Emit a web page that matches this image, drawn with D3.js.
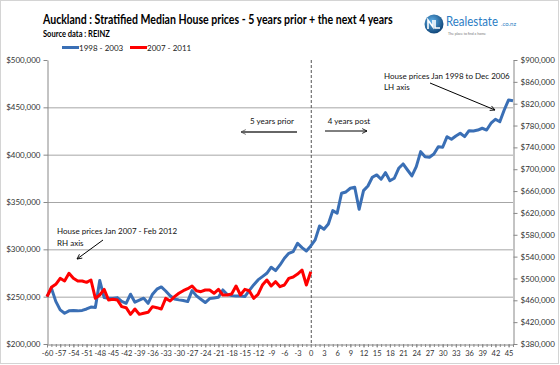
<!DOCTYPE html>
<html><head><meta charset="utf-8">
<script src="https://cdn.jsdelivr.net/npm/d3@7"></script>
<style>body{margin:0;background:#fff} svg{display:block} text{font-family:Lato,"Open Sans",sans-serif}</style>
</head><body><svg width="560" height="365"></svg>
<script>
// ---- data ----
const months = d3.range(-60, 47); // month offsets -60 .. 46
const seriesNames = ["1998 - 2003", "2007 - 2011"];
// 1998-2006, left axis, $000
const blueValues = [
 250,259,245,236,232.5,235,235.3,235,235.5,237,239,238.5,267,249,248.4,248.4,249,245,243,252.6,
 244.2,246.3,248.4,243,252.6,257.9,260.3,256,251,247.5,246.6,245.9,244.8,256.4,250.8,247.3,243.8,248,248.7,249.4,
 257.1,252.2,251.1,250.8,250.8,250.1,256.4,262.4,267.7,271.2,274.7,281.1,277.5,283.5,290.6,295.8,297.6,306.4,301.8,298.3,
 303.6,310,324.7,321.2,326.8,340.9,338.1,359.2,360.6,364.5,365.6,342.3,362,366.9,376.1,378.6,374,381,372.5,375.1,
 385.6,390.2,383.8,377.5,387.3,403.2,397.9,397.3,400.7,408.4,407.8,419,416.3,419.7,422.6,419,425.3,425,426,427.9,
 426,433.2,437.4,434.8,447.2,457.8,457
];
// 2007-2012, right axis, $000
const redValues = [
 466.7,483.8,489.3,500.3,495.4,509.4,500.3,495.4,495.4,492.9,497.2,463.6,469.7,480.1,460.6,461.8,460.6,448.4,446.5,434.3,
 444.1,434.3,436.2,438,448.4,446.5,444.1,463.6,458.8,466.7,472.8,477.6,481.3,486.2,477.6,475.8,478.9,478.9,472.8,480.1,
 469.7,469.7,471.5,486.2,469.7,480.1,477.6,463.6,470.9,488,497.2,486.2,494.1,485,488,500.2,502.7,508,515.5,488,
 512.4
];
const leftTicks = [200000,250000,300000,350000,400000,450000,500000];
const rightTicks = [380000,420000,460000,500000,540000,580000,620000,660000,700000,740000,780000,820000,860000,900000];
const xTickLabels = [-60,-57,-54,-51,-48,-45,-42,-39,-36,-33,-30,-27,-24,-21,-18,-15,-12,-9,-6,-3,0,3,6,9,12,15,18,21,24,27,30,33,36,39,42,45];

const BLUE = "#3a6fb5", RED = "#ff0000";
const svg = d3.select("svg");
svg.append("rect").attr("x",0.5).attr("y",0.5).attr("width",558).attr("height",363)
  .attr("fill","#fff").attr("stroke","#d4d4d4");

const defs = svg.append("defs");
function marker(id, color){
  defs.append("marker").attr("id",id).attr("viewBox","0 0 10 10").attr("refX",9).attr("refY",5)
    .attr("markerWidth",6).attr("markerHeight",6).attr("markerUnits","userSpaceOnUse").attr("orient","auto")
    .append("path").attr("d","M1,1 L9,5 L1,9").attr("fill","none").attr("stroke",color).attr("stroke-width",1.4);
}
marker("arrBlack","#000"); marker("arrGray","#555");
const grad = defs.append("radialGradient").attr("id","logoGrad").attr("cx","40%").attr("cy","35%").attr("r","70%");
grad.append("stop").attr("offset","0%").attr("stop-color","#5fb0e8");
grad.append("stop").attr("offset","100%").attr("stop-color","#0b3f72");

const x = d3.scaleLinear().domain([-60,46]).range([47,513]);
const yL = d3.scaleLinear().domain([200000,500000]).range([344,60]);
const yR = d3.scaleLinear().domain([380000,900000]).range([344,60]);

// gridlines
svg.append("g").selectAll("line").data(leftTicks.filter(d=>d>200000 && d<500000)).join("line")
  .attr("x1",47).attr("x2",513).attr("y1",d=>yL(d)+0.5).attr("y2",d=>yL(d)+0.5)
  .attr("stroke","#a6a6a6").attr("stroke-width",1);

const money = d => "$" + d3.format(",")(d);
function styleAxis(g, size){
  g.select(".domain").attr("stroke","#888");
  g.selectAll(".tick line").attr("stroke","#888");
  g.selectAll("text").attr("fill","#333").style("font-size",size||"8px").style("font-family","Lato,sans-serif");
}
svg.append("g").attr("transform","translate(47.5,0)")
  .call(d3.axisLeft(yL).tickValues(leftTicks).tickFormat(money).tickSize(4).tickSizeOuter(0).tickPadding(3))
  .call(g=>styleAxis(g));
svg.append("g").attr("transform","translate(513.5,0)")
  .call(d3.axisRight(yR).tickValues(rightTicks).tickFormat(money).tickSize(4).tickSizeOuter(0).tickPadding(3))
  .call(g=>styleAxis(g));
// minor x ticks
svg.append("g").selectAll("line").data(months).join("line")
  .attr("x1",d=>x(d)+0.5).attr("x2",d=>x(d)+0.5).attr("y1",344).attr("y2",347).attr("stroke","#888");
svg.append("g").attr("transform","translate(0,344.5)")
  .call(d3.axisBottom(x).tickValues(xTickLabels).tickFormat(d=>String(d)).tickSize(3).tickSizeOuter(0).tickPadding(3))
  .call(g=>styleAxis(g,"7.5px"));

// dashed zero line
svg.append("line").attr("x1",x(0)+0.5).attr("x2",x(0)+0.5).attr("y1",60).attr("y2",344)
  .attr("stroke","#555").attr("stroke-dasharray","3,2");

// series
const lineL = d3.line().x((d,i)=>x(months[i])).y(d=>yL(d*1000));
const lineR = d3.line().x((d,i)=>x(months[i])).y(d=>yR(d*1000));
svg.append("path").datum(blueValues).attr("d",lineL).attr("fill","none").attr("stroke",BLUE)
  .attr("stroke-width",3).attr("stroke-linejoin","round");
svg.append("path").datum(redValues).attr("d",lineR).attr("fill","none").attr("stroke",RED)
  .attr("stroke-width",3).attr("stroke-linejoin","round");

// helper: text squeezed horizontally to a target width via transform
function fitText(parent, tx, ty, str, width, styles){
  const t = parent.append("text").text(str);
  Object.entries(styles).forEach(([k,v])=>t.style(k,v));
  const w = t.node().getComputedTextLength();
  const k = w > 0 ? width / w : 1;
  t.attr("transform",`translate(${tx},${ty}) scale(${k},1)`);
  return t;
}

// titles
fitText(svg, 43, 24, "Auckland : Stratified Median House prices - 5 years prior + the next 4 years", 350,
  {"font-size":"13px","font-weight":"bold","fill":"#000"});
fitText(svg, 43, 37, "Source data : REINZ", 67, {"font-size":"9.5px","font-weight":"bold","fill":"#000"});

// legend
const legend = svg.append("g");
[[62,BLUE],[130,RED]].forEach((p,i)=>{
  legend.append("line").attr("x1",p[0]).attr("x2",p[0]+17).attr("y1",47.5).attr("y2",47.5)
    .attr("stroke",p[1]).attr("stroke-width",3);
  legend.append("text").attr("x",p[0]+17).attr("y",50.5).text(seriesNames[i])
    .style("font-size","8px").attr("fill","#222");
});

// annotations
const ann = svg.append("g").style("font-size","8px").attr("fill","#111");
ann.append("text").attr("x",272).attr("y",124).attr("text-anchor","middle").text("5 years prior");
ann.append("line").attr("x1",297).attr("x2",241).attr("y1",132).attr("y2",132)
  .attr("stroke","#666").attr("stroke-width",2).attr("marker-end","url(#arrGray)");
ann.append("text").attr("x",349).attr("y",124).attr("text-anchor","middle").text("4 years post");
ann.append("line").attr("x1",325).attr("x2",367).attr("y1",131).attr("y2",131)
  .attr("stroke","#000").attr("stroke-width",1).attr("marker-end","url(#arrBlack)");
ann.append("text").attr("x",384).attr("y",79).text("House prices Jan 1998 to Dec 2006");
ann.append("text").attr("x",384).attr("y",90).text("LH axis");
ann.append("line").attr("x1",430).attr("y1",83).attr("x2",495).attr("y2",110)
  .attr("stroke","#000").attr("stroke-width",1).attr("marker-end","url(#arrBlack)");
ann.append("text").attr("x",57).attr("y",234).text("House prices Jan 2007 - Feb 2012");
ann.append("text").attr("x",57).attr("y",246).text("RH axis");
ann.append("line").attr("x1",103).attr("y1",240).attr("x2",77).attr("y2",259)
  .attr("stroke","#000").attr("stroke-width",1).attr("marker-end","url(#arrBlack)");

// logo
const logo = svg.append("g");
logo.append("circle").attr("cx",434).attr("cy",24).attr("r",9.5).attr("fill","url(#logoGrad)");
logo.append("path").attr("d","M428,29 L428,20 L433,27 L433,20 M435,20 L435,28 L440,28")
  .attr("fill","none").attr("stroke","#fff").attr("stroke-width",1.6);
fitText(logo, 446, 26, "Realestate", 52, {"font-size":"13px","fill":"#2a7cc4"});
logo.append("text").attr("x",501).attr("y",26).text(".co.nz").style("font-size","6px").attr("fill","#2a7cc4");
logo.append("text").attr("x",448).attr("y",35).text("The place to find a home").style("font-size","3.5px").attr("fill","#777");
</script>
</body></html>
